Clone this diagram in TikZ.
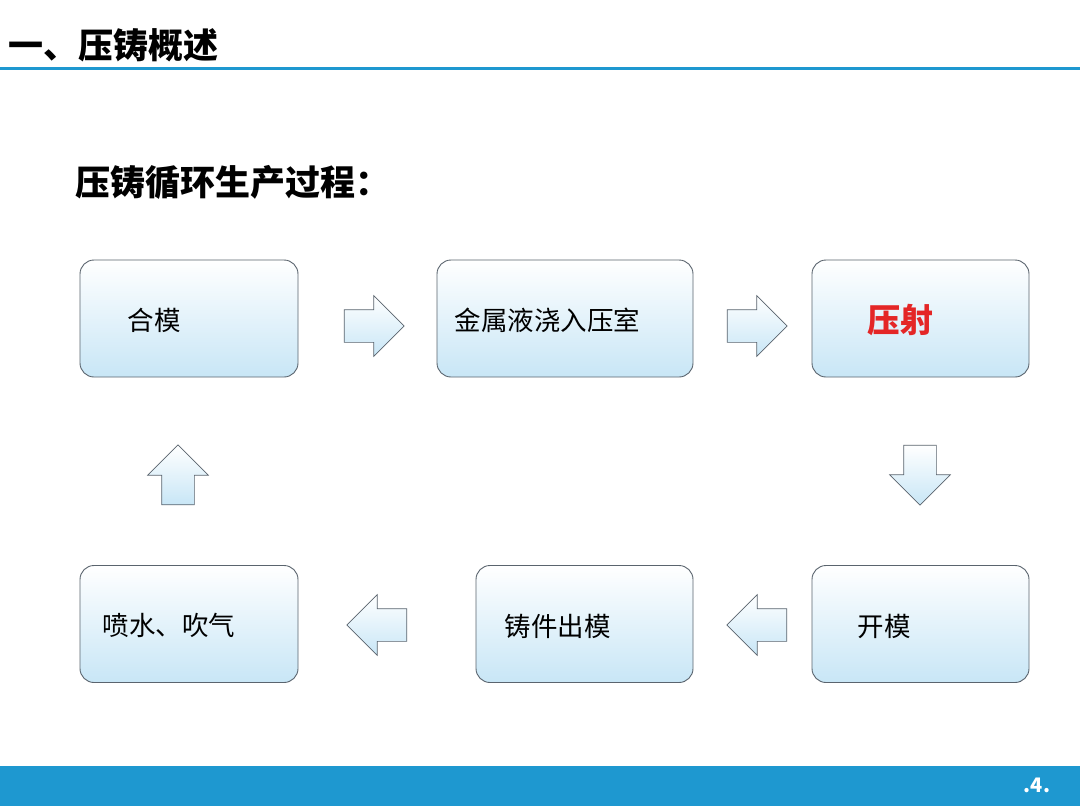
\documentclass[tikz,border=0pt]{standalone}
\usepackage{fontspec}
\setmainfont{Noto Sans CJK SC}
\usetikzlibrary{shapes.arrows}
\definecolor{barblue}{RGB}{30,152,208}
\definecolor{boxblue}{RGB}{200,230,246}
\definecolor{edgegray}{RGB}{90,100,110}
\tikzset{
  stepbox/.style={draw=edgegray,line width=0.9pt,rounded corners=14pt,top color=white,bottom color=boxblue,
    minimum height=117pt,inner sep=0pt},
  steptext/.style={anchor=west,font=\fontsize{26.5}{30}\selectfont},
  flow/.style={single arrow,draw=edgegray,line width=0.7pt,top color=white,bottom color=boxblue,
    minimum height=60pt,single arrow head extend=14pt,single arrow tip angle=90,inner sep=16pt}
}
\begin{document}
\begin{tikzpicture}[x=1pt,y=-1pt]
			\useasboundingbox (0,0) rectangle (1080,806);
			\fill[white] (0,0) rectangle (1080,806);
			
			% header
			\node (title) [anchor=west,inner sep=0pt,font=\bfseries\fontsize{35}{40}\selectfont] at (8,45) {一、压铸概述};
			\draw[barblue,line width=3pt] (0,68) -- (1080,68);
			\node (sub) [anchor=west,inner sep=0pt,font=\bfseries\fontsize{35}{40}\selectfont] at (75,182) {压铸循环生产过程：};
			
			% boxes
			\node (b1) [stepbox,minimum width=218pt] at (189,318.5) {};
			\node (b2) [stepbox,minimum width=256pt] at (565,318.5) {};
			\node (b3) [stepbox,minimum width=217pt] at (920.5,318.5) {};
			\node (b4) [stepbox,minimum width=218pt] at (189,624) {};
			\node (b5) [stepbox,minimum width=217pt] at (584.5,624) {};
			\node (b6) [stepbox,minimum width=217pt] at (920.5,624) {};
			
			% texts
			\node (t1) [steptext] at (124,320) {合模};
			\node (t2) [steptext] at (451,320) {金属液浇入压室};
			\node (t3) [steptext,text={rgb,255:red,228;green,38;blue,38},font=\bfseries\fontsize{33}{36}\selectfont] at (864,320) {压射};
			\node (t4) [steptext] at (99,625) {喷水、吹气};
			\node (t5) [steptext] at (501,626) {铸件出模};
			\node (t6) [steptext] at (854,626) {开模};
			
			% arrows
			\node (a1) [flow] at (366,326) {};
			\node (a2) [flow] at (749,326) {};
			\node (a3) [flow,shape border rotate=270] at (920,467) {};
			\node (a4) [flow,shape border rotate=180] at (765,625) {};
			\node (a5) [flow,shape border rotate=180] at (385,625) {};
			\node (a6) [flow,shape border rotate=90] at (178,483) {};
			
			% footer
			\fill[barblue] (0,766) rectangle (1080,806);
			\node (pg) [white,inner sep=0pt,font=\bfseries\fontsize{20}{24}\selectfont] at (1037,785) {.4.};
		\end{tikzpicture}
\end{document}
